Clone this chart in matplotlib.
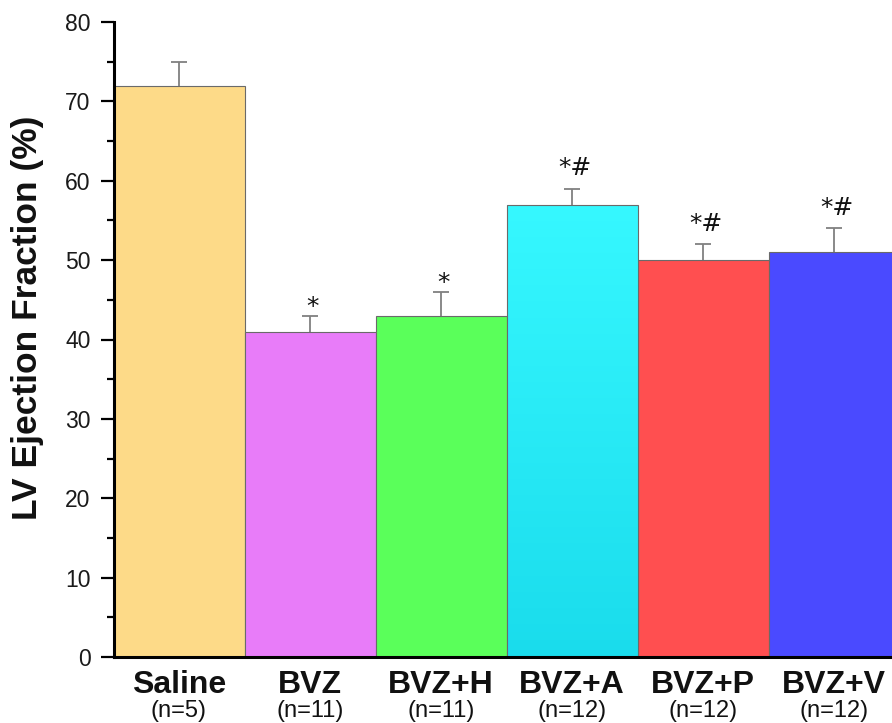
import numpy as np
import matplotlib
matplotlib.use("Agg")
import matplotlib.pyplot as plt
from matplotlib.colors import LinearSegmentedColormap

# Left-ventricular ejection fraction per treatment group (mean + SEM)
groups = ["Saline", "BVZ", "BVZ+H", "BVZ+A", "BVZ+P", "BVZ+V"]
sample_sizes = ["(n=5)", "(n=11)", "(n=11)", "(n=12)", "(n=12)", "(n=12)"]
ef_mean = [72, 41, 43, 57, 50, 51]
ef_sem = [3, 2, 3, 2, 2, 3]
significance = ["", "*", "*", "*#", "*#", "*#"]
bar_colors = ["#FDDA88", "#E87CF9", "#5AFF5A", "#2BEEFA", "#FF4F50", "#4A4AFF"]
y_ticks = [0, 10, 20, 30, 40, 50, 60, 70, 80]

plt.rcParams["font.family"] = ["Liberation Sans", "DejaVu Sans"]

fig = plt.figure(figsize=(8.92, 7.23), dpi=100)
ax = fig.add_axes([113.5 / 892, 66 / 723, 786 / 892, 635 / 723])

x = np.arange(1, len(groups) + 1)
bars = ax.bar(x, ef_mean, width=1.0, color=bar_colors, edgecolor="#6a6a6a",
              linewidth=0.8, zorder=2)

# vertical colour fade on the BVZ+A bar
fade = LinearSegmentedColormap.from_list("cyan_fade", ["#1ADCEC", "#36F8FF"])
gb = bars[3]
grad = np.linspace(0, 1, 256).reshape(-1, 1)
im = ax.imshow(grad, cmap=fade, origin="lower", aspect="auto",
               extent=[gb.get_x(), gb.get_x() + gb.get_width(), 0, gb.get_height()],
               zorder=2.5)
im.set_clip_path(gb)
gb.set_facecolor("none")
gb.set_zorder(3)

# upper-only error bars
_, caps, _ = ax.errorbar(x, ef_mean, yerr=[np.zeros(len(ef_sem)), ef_sem], fmt="none",
                         ecolor="#808080", elinewidth=1.3, capsize=6, capthick=1.3,
                         zorder=3.5)
caps[0].set_visible(False)

# significance markers
for xi, m, e, s in zip(x, ef_mean, ef_sem, significance):
    if s:
        lift = 9.5 if "#" in s else 1.5
        ax.annotate(s, (xi, m + e), xytext=(2, lift), textcoords="offset points",
                    ha="center", va="baseline", fontsize=18, family="DejaVu Sans",
                    color="#111111")

ax.set_xlim(0.5, 6.5)
ax.set_ylim(0, 80)
ax.set_yticks(y_ticks)
ax.set_yticks([v + 5 for v in y_ticks[:-1]], minor=True)
ax.tick_params(axis="y", which="major", length=9.5, width=1.6, labelsize=16.5,
               pad=7, labelcolor="#1a1a1a")
ax.tick_params(axis="y", which="minor", length=5, width=1.6)
ax.tick_params(axis="x", length=0, labelbottom=False)
ax.set_xticks(x)
for side in ("top", "right"):
    ax.spines[side].set_visible(False)
for side in ("left", "bottom"):
    ax.spines[side].set_linewidth(2.2)
    ax.spines[side].set_zorder(5)

# group names with sample sizes underneath
for xi, g, n in zip(x, groups, sample_sizes):
    ax.annotate(g, (xi, 0), xycoords=("data", "axes fraction"), xytext=(0, -26),
                textcoords="offset points", ha="center", va="baseline",
                fontsize=23, fontweight="bold", color="#111111")
    ax.annotate(n, (xi, 0), xycoords=("data", "axes fraction"), xytext=(0, -43),
                textcoords="offset points", ha="center", va="baseline",
                fontsize=17, color="#111111")

fig.text(0.031, 0.561, "LV Ejection Fraction (%)", rotation=90, ha="center",
         va="center", fontsize=25.5, fontweight="bold", color="#111111")

fig.savefig("out.png", dpi=100)
